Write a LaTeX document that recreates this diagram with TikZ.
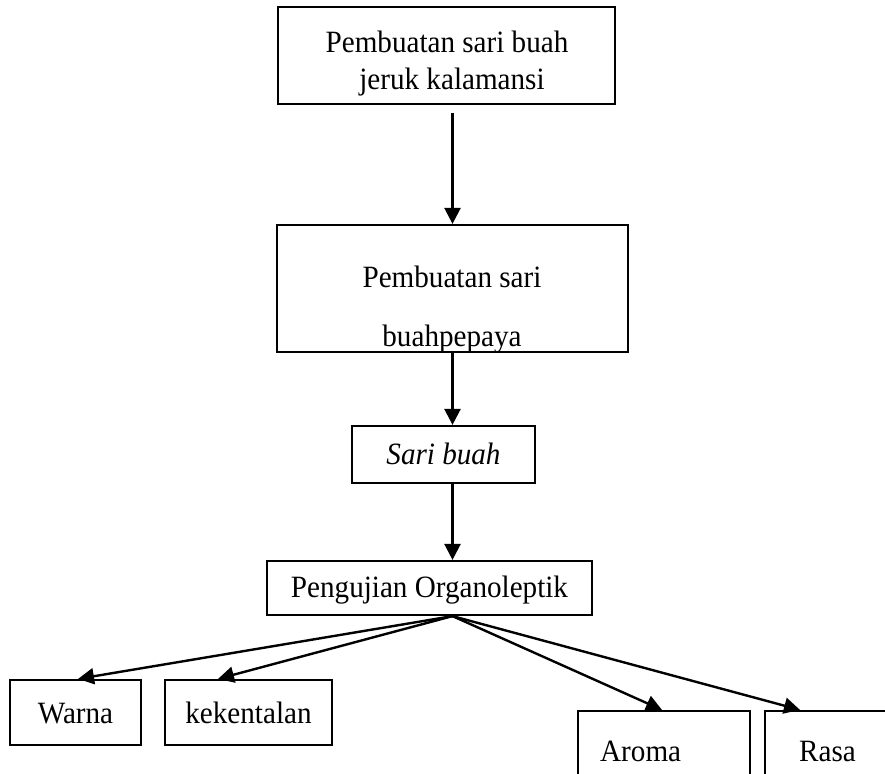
\documentclass[tikz,border=0pt]{standalone}
\usepackage{fontspec}
\setmainfont[FakeStretch=0.94]{Liberation Serif}
\usetikzlibrary{arrows.meta,calc}
\begin{document}
\begin{tikzpicture}[x=1pt,y=-1pt,
  box/.style={draw, line width=2.2pt, inner sep=0pt, fill=white},
  txt/.style={font=\fontsize{31}{36}\selectfont, anchor=base, inner sep=0pt},
  arr/.style={line width=2.4pt, -{Triangle[length=16pt,width=16pt]}}]
\clip (0,0) rectangle (885,773);
\fill[white] (0,0) rectangle (885,773);
% boxes
\node[box, minimum width=337pt, minimum height=97pt] (b1) at (446.5,55.5) {};
\node[box, minimum width=351pt, minimum height=127pt] (b2) at (452.5,288.5) {};
\node[box, minimum width=183pt, minimum height=57pt] (b3) at (443.5,454.5) {};
\node[box, minimum width=325pt, minimum height=54pt] (b4) at (429.5,588) {};
\node[box, minimum width=131pt, minimum height=65pt] (w) at (75.5,712.5) {};
\node[box, minimum width=167pt, minimum height=65pt] (k) at (248.5,712.5) {};
\node[box, minimum width=172pt, minimum height=109pt] (a) at (664,765.5) {};
\node[box, minimum width=140pt, minimum height=109pt] (r) at (835,765.5) {};
% texts
\node[txt] (t1a) at (447,53) {Pembuatan sari buah};
\node[txt] (t1b) at (452,90) {jeruk kalamansi};
\node[txt] (t2a) at (452,287) {Pembuatan sari};
\node[txt] (t2b) at (452,346) {buahpepaya};
\node[txt] (t3) at (443.5,464) {\itshape Sari buah};
\node[txt] (t4) at (429.5,597) {Pengujian Organoleptik};
\node[txt] (tw) at (75.5,723) {Warna};
\node[txt] (tk) at (248.5,723) {kekentalan};
\node[txt, anchor=base west] (ta) at (600,761) {Aroma};
\node[txt, anchor=base west] (tr) at (799,761) {Rasa};
% connectors
\draw[arr] ($(b1.south -| b2.north)+(0,8)$) -- (b2.north);
\draw[arr] (b2.south) -- (b2.south |- b3.north);
\draw[arr] (b2.south |- b3.south) -- (b2.south |- b4.north);
\coordinate (src) at (b2.south |- b4.south);
\draw[arr] (src) -- ($(w.north)+(2.5,0)$);
\draw[arr] (src) -- ($(k.north)+(-30.5,0)$);
\draw[arr] (src) -- ($(a.north)+(-2,0)$);
\draw[arr] (src) -- ($(r.north)+(-35,0)$);
\end{tikzpicture}
\end{document}
